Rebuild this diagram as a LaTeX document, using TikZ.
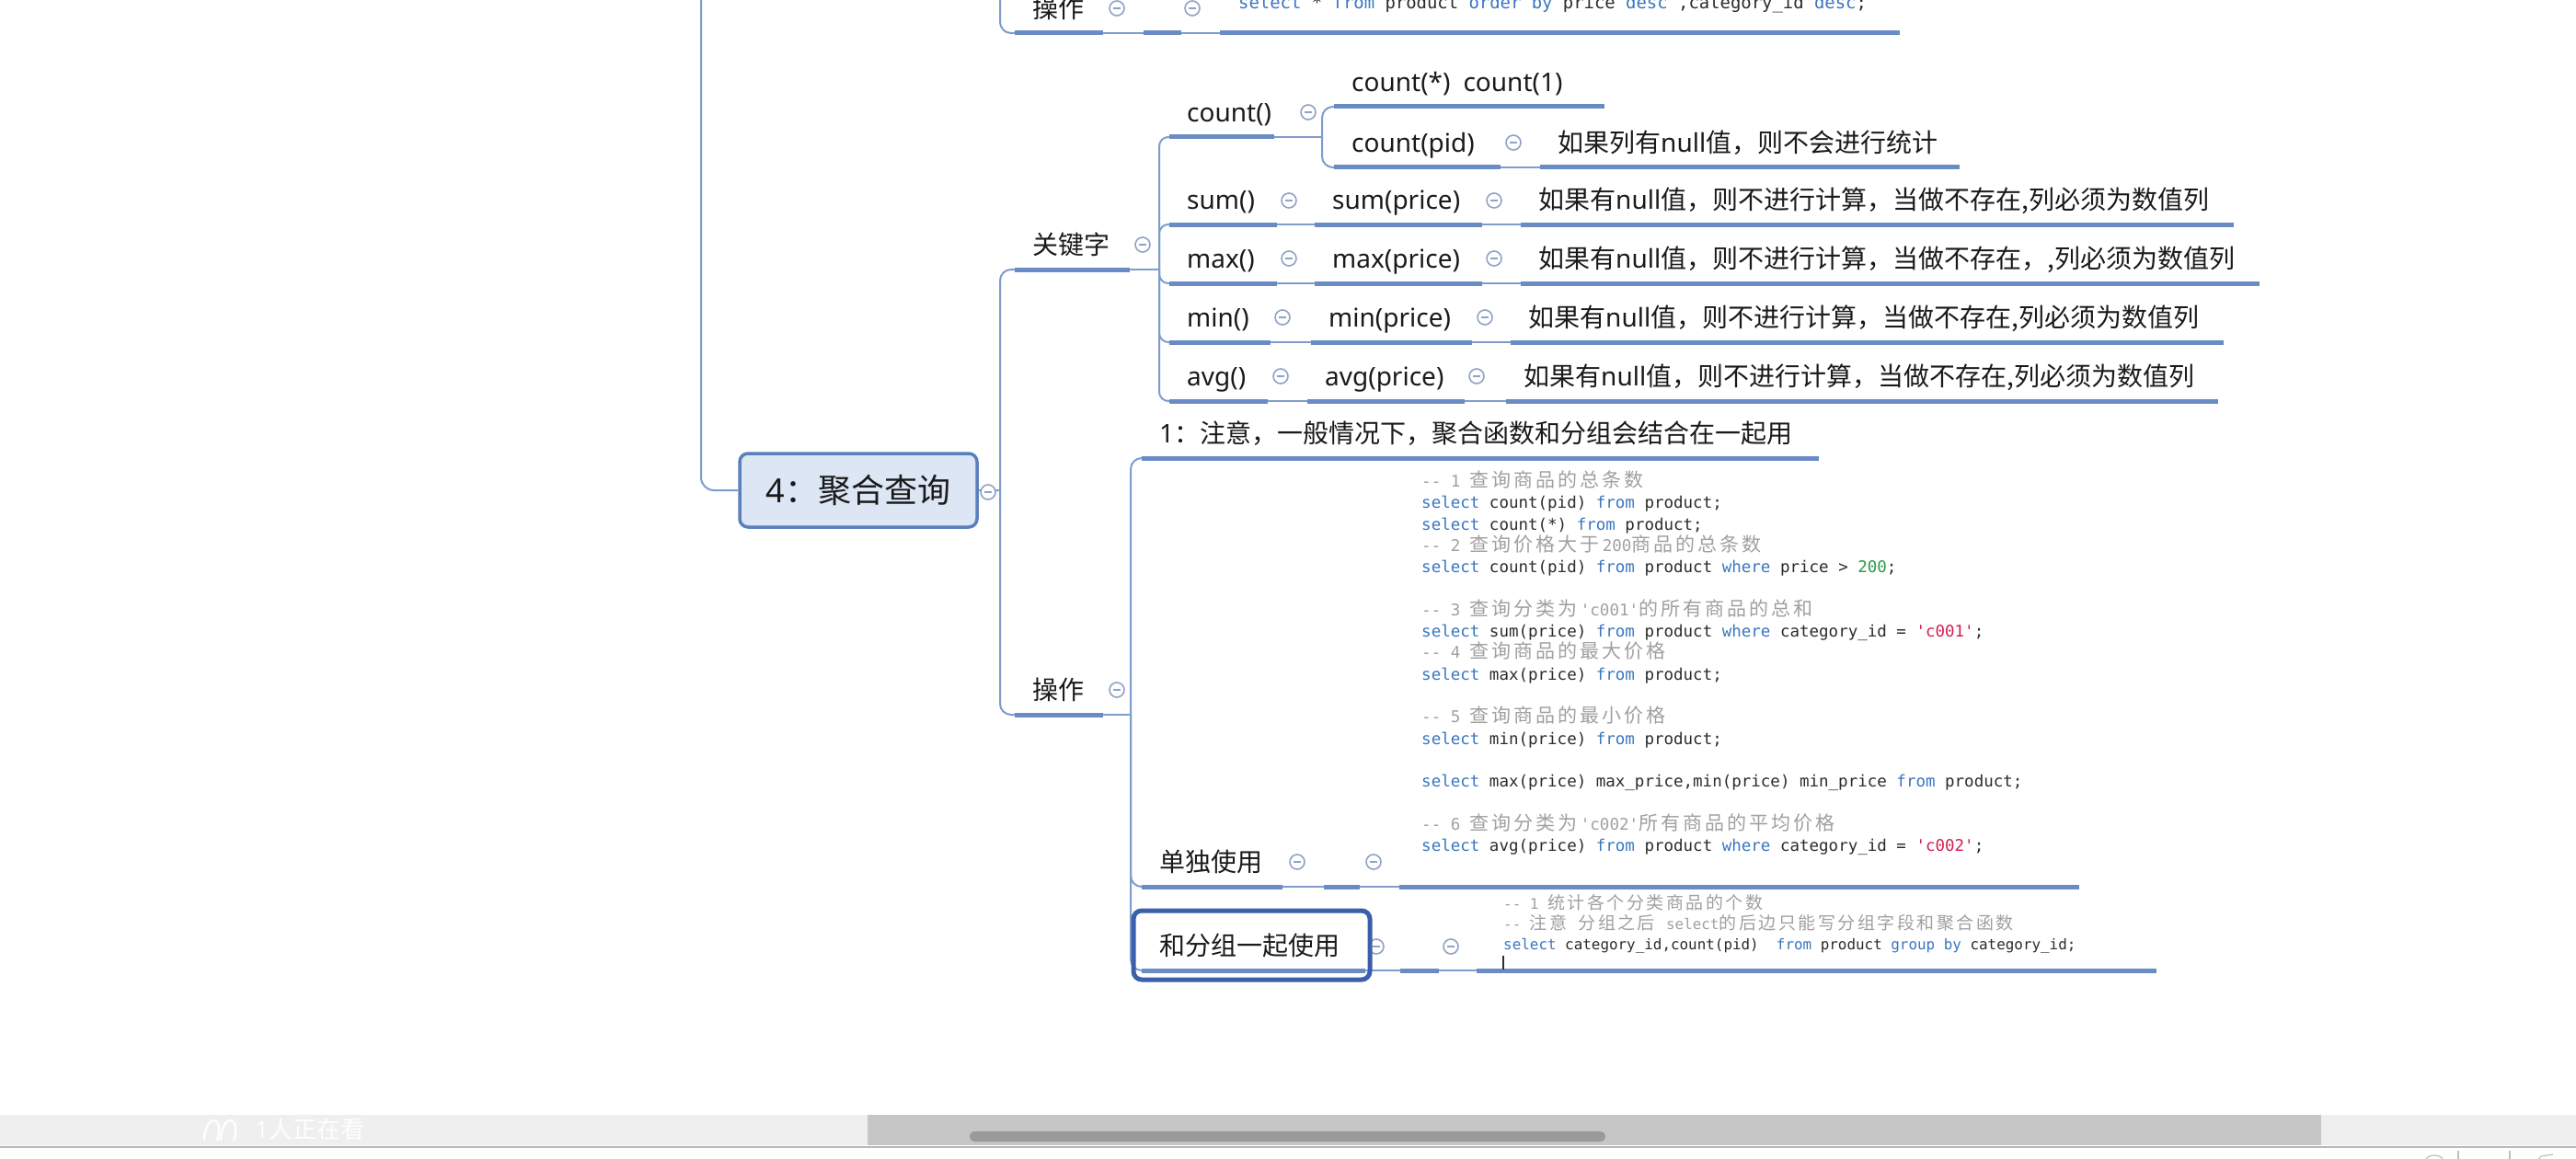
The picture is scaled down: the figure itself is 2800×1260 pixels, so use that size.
\documentclass[tikz,border=0pt]{standalone}
\usepackage{fontspec}
\setmainfont{Noto Sans CJK SC}
\setmonofont{DejaVu Sans Mono}
\newfontfamily\zhf{Noto Sans CJK SC}
\newfontfamily\latf{Noto Sans}
\newcommand\lt[1]{{\latf #1}}
\makeatletter
\newcommand\zhA[1]{{\zhf\fontsize{21}{22}\selectfont\@tfor\zh@c:=#1\do{\zh@c\kern3pt}}}
\newcommand\zhB[1]{{\zhf\fontsize{19}{20}\selectfont\@tfor\zh@c:=#1\do{\zh@c\kern2.5pt}}}
\makeatother
\definecolor{ulinec}{HTML}{6A8CC4}
\definecolor{connc}{HTML}{7E9CCC}
\definecolor{circc}{HTML}{8FA3C8}
\definecolor{rootfill}{HTML}{DCE6F4}
\definecolor{rootdraw}{HTML}{5A80BC}
\definecolor{selc}{HTML}{3B5FAA}
\definecolor{kwc}{HTML}{3A76C0}
\definecolor{codec}{HTML}{2C2C2C}
\definecolor{cmc}{HTML}{A0A0A0}
\definecolor{numc}{HTML}{2A9A45}
\definecolor{strc}{HTML}{D42050}
\definecolor{txt}{HTML}{1A1A1A}
\definecolor{bandc}{HTML}{EFEFEF}
\definecolor{trackc}{HTML}{C6C6C6}
\definecolor{thumbc}{HTML}{9A9A9A}
\newcommand\kwd[1]{\textcolor{kwc}{#1}}
\newcommand\cmt[1]{\textcolor{cmc}{#1}}
\newcommand\nmb[1]{\textcolor{numc}{#1}}
\newcommand\sqs[1]{\textcolor{strc}{#1}}
\usetikzlibrary{calc}
\tikzset{
  topic/.style={anchor=south west, inner xsep=19pt, inner ysep=9.5pt, align=left,
    text width=#1, text height=21pt, text depth=7pt,
    font=\fontsize{28}{32}\selectfont, text=txt},
  holder/.style={anchor=south west, inner sep=0pt, minimum width=#1, minimum height=30pt},
  uline/.style={draw=ulinec, line width=5pt},
  conn/.style={draw=connc, line width=2pt},
  spine/.style={conn, rounded corners=12pt},
  coll/.style={circle, draw=circc, line width=1.6pt, fill=white, minimum size=16pt, inner sep=0pt,
    path picture={\draw[circc, line width=1.4pt] ([xshift=-4pt]path picture bounding box.center) -- ([xshift=4pt]path picture bounding box.center);}},
  rootbox/.style={rectangle, rounded corners=9pt, draw=rootdraw, line width=3.5pt, fill=rootfill,
    minimum width=258pt, minimum height=80pt, font=\fontsize{36}{40}\selectfont, text=txt},
  selbox/.style={rectangle, rounded corners=9pt, draw=selc, line width=5pt, minimum width=257pt, minimum height=75pt},
  codeA/.style={anchor=west, inner sep=0pt, text height=13pt, text depth=4pt, font=\ttfamily\fontsize{17.5}{20}\selectfont, text=codec},
  codeB/.style={anchor=west, inner sep=0pt, text height=12pt, text depth=4pt, font=\ttfamily\fontsize{15.9}{18}\selectfont, text=codec},
  codeT/.style={anchor=west, inner sep=0pt, text height=14pt, text depth=4pt, font=\ttfamily\fontsize{18.9}{21}\selectfont, text=codec},
}
\begin{document}
\begin{tikzpicture}[x=1pt,y=-1pt]
\useasboundingbox (0,0) rectangle (2800,1260);
\fill[white] (0,0) rectangle (2800,1260);

% ---------- nodes ----------
\node[rootbox] (root) at (933,533) {\lt{4}：聚合查询};

\node[topic=58pt] (topOp) at (1103,36) {\mbox{操作}};
\node[topic=3pt] (topE) at (1243,36) {};
\node[holder=739pt] (topCode) at (1326,36) {};

\node[topic=87pt] (kw) at (1103,293) {\mbox{关键字}};
\node[topic=76pt] (cnt) at (1271,149) {\mbox{\lt{count()}}};
\node[topic=256pt] (cstar) at (1450,116) {\mbox{\lt{count(*)\hspace{14pt}count(1)}}};
\node[topic=143pt] (cpid) at (1450,182) {\mbox{\lt{count(pid)}}};
\node[topic=418pt] (note1) at (1674,182) {\mbox{如果列有\lt{null}值，则不会进行统计}};
\node[topic=79pt] (sum) at (1271,244) {\mbox{\lt{sum()}}};
\node[topic=144pt] (sump) at (1429,244) {\mbox{\lt{sum(price)}}};
\node[topic=737pt] (note2) at (1653,244) {\mbox{如果有\lt{null}值，则不进行计算，当做不存在,列必须为数值列}};
\node[topic=79pt] (max) at (1271,308) {\mbox{\lt{max()}}};
\node[topic=144pt] (maxp) at (1429,308) {\mbox{\lt{max(price)}}};
\node[topic=765pt] (note3) at (1653,308) {\mbox{如果有\lt{null}值，则不进行计算，当做不存在，,列必须为数值列}};
\node[topic=72pt] (min) at (1271,372) {\mbox{\lt{min()}}};
\node[topic=137pt] (minp) at (1425,372) {\mbox{\lt{min(price)}}};
\node[topic=737pt] (note4) at (1642,372) {\mbox{如果有\lt{null}值，则不进行计算，当做不存在,列必须为数值列}};
\node[topic=69pt] (avg) at (1271,436) {\mbox{\lt{avg()}}};
\node[topic=133pt] (avgp) at (1421,436) {\mbox{\lt{avg(price)}}};
\node[topic=736pt] (note5) at (1637,436) {\mbox{如果有\lt{null}值，则不进行计算，当做不存在,列必须为数值列}};

\node[topic=58pt] (op) at (1103,777) {\mbox{操作}};
\node[topic=698pt] (note0) at (1241,498) {\mbox{\lt{1}：注意，一般情况下，聚合函数和分组会结合在一起用}};
\node[topic=115pt] (solo) at (1241,964) {\mbox{单独使用}};
\node[topic=1pt] (soloE) at (1439,964) {};
\node[holder=739pt] (soloCode) at (1521,964) {};
\node[topic=205pt] (grp) at (1241,1055) {\mbox{和分组一起使用}};
\node[topic=4pt] (grpE) at (1522,1055) {};
\node[holder=739pt] (grpCode) at (1605,1055) {};

% ---------- spine coordinates ----------
\coordinate (leftTop) at (762,-20);
\coordinate (midTop) at (1087,-20);
\coordinate (rs) at (1087,533);
\coordinate (ks) at (1260,293);
\coordinate (cs) at (1437,149);
\coordinate (os) at (1229,777);

% ---------- connectors ----------
\draw[conn, rounded corners=14pt] (leftTop) |- (root.west);
\draw[spine] (midTop) |- (topOp.south west);
\draw[conn] (topOp.south east) -- (topE.south west);
\draw[conn] (topE.south east) -- (topCode.south west);

\draw[conn] (root.east) -- (rs);
\draw[spine] (rs) |- (kw.south west);
\draw[spine] (rs) |- (op.south west);

\draw[conn] (kw.south east) -- (ks);
\foreach \n in {cnt,sum,max,min,avg} \draw[conn, rounded corners=10pt] (ks) |- (\n.south west);
\draw[conn] (cnt.south east) -- (cs);
\draw[spine] (cs) |- (cstar.south west);
\draw[spine] (cs) |- (cpid.south west);
\draw[conn] (cpid.south east) -- (note1.south west);
\draw[conn] (sum.south east) -- (sump.south west);
\draw[conn] (sump.south east) -- (note2.south west);
\draw[conn] (max.south east) -- (maxp.south west);
\draw[conn] (maxp.south east) -- (note3.south west);
\draw[conn] (min.south east) -- (minp.south west);
\draw[conn] (minp.south east) -- (note4.south west);
\draw[conn] (avg.south east) -- (avgp.south west);
\draw[conn] (avgp.south east) -- (note5.south west);

\draw[conn] (op.south east) -- (os);
\foreach \n in {note0,solo,grp} \draw[spine] (os) |- (\n.south west);
\draw[conn] (solo.south east) -- (soloE.south west);
\draw[conn] (soloE.south east) -- (soloCode.south west);
\draw[conn] (grp.south east) -- (grpE.south west);
\draw[conn] (grpE.south east) -- (grpCode.south west);

% ---------- underlines ----------
\foreach \n in {topOp,topE,topCode,kw,cnt,cstar,cpid,note1,sum,sump,note2,max,maxp,note3,min,minp,note4,avg,avgp,note5,op,note0,solo,soloE,soloCode,grp,grpE,grpCode}
  \draw[uline] (\n.south west) -- (\n.south east);

% ---------- collapse circles ----------
\node[coll] (ctop1) at (1214,9) {};
\node[coll] (ctop2) at (1296,9) {};
\node[coll] (croot) at (1074,535) {};
\node[coll] (ckw) at (1242,266) {};
\node[coll] (ccnt) at (1422,122) {};
\node[coll] (ccpid) at (1645,155) {};
\node[coll] (csum) at (1401,218) {};
\node[coll] (csump) at (1624,218) {};
\node[coll] (cmax) at (1401,281) {};
\node[coll] (cmaxp) at (1624,281) {};
\node[coll] (cmin) at (1394,345) {};
\node[coll] (cminp) at (1614,345) {};
\node[coll] (cavg) at (1392,409) {};
\node[coll] (cavgp) at (1605,409) {};
\node[coll] (cop) at (1214,750) {};
\node[coll] (csolo) at (1410,937) {};
\node[coll] (csoloE) at (1493,937) {};
\node[coll] (cgrp) at (1496,1029) {};
\node[coll] (cgrpE) at (1577,1029) {};

% selection box
\node[selbox] (grpbox) at (1360.5,1027.5) {};

% ---------- code ----------
\node[codeT] (t1) at (1346,5) {\kwd{select} * \kwd{from} product \kwd{order} \kwd{by} price \kwd{desc} ,category\_id \kwd{desc};};

\node[codeA] (a1) at (1545,525) {\cmt{-- 1 \zhA{查询商品的总条数}}};
\node[codeA] (a2) at (1545,548.3) {\kwd{select} count(pid) \kwd{from} product;};
\node[codeA] (a3) at (1545,571.6) {\kwd{select} count(*) \kwd{from} product;};
\node[codeA] (a4) at (1545,594.9) {\cmt{-- 2 \zhA{查询价格大于}200\zhA{商品的总条数}}};
\node[codeA] (a5) at (1545,618.2) {\kwd{select} count(pid) \kwd{from} product \kwd{where} price > \nmb{200};};
\node[codeA] (a7) at (1545,664.8) {\cmt{-- 3 \zhA{查询分类为}'c001'\zhA{的所有商品的总和}}};
\node[codeA] (a8) at (1545,688.1) {\kwd{select} sum(price) \kwd{from} product \kwd{where} category\_id = \sqs{'c001'};};
\node[codeA] (a9) at (1545,711.4) {\cmt{-- 4 \zhA{查询商品的最大价格}}};
\node[codeA] (a10) at (1545,734.7) {\kwd{select} max(price) \kwd{from} product;};
\node[codeA] (a12) at (1545,781.3) {\cmt{-- 5 \zhA{查询商品的最小价格}}};
\node[codeA] (a13) at (1545,804.6) {\kwd{select} min(price) \kwd{from} product;};
\node[codeA] (a15) at (1545,851.2) {\kwd{select} max(price) max\_price,min(price) min\_price \kwd{from} product;};
\node[codeA] (a17) at (1545,897.8) {\cmt{-- 6 \zhA{查询分类为}'c002'\zhA{所有商品的平均价格}}};
\node[codeA] (a18) at (1545,921.1) {\kwd{select} avg(price) \kwd{from} product \kwd{where} category\_id = \sqs{'c002'};};

\node[codeB] (b1) at (1634,984) {\cmt{-- 1 \zhB{统计各个分类商品的个数}}};
\node[codeB] (b2) at (1634,1006) {\cmt{-- \zhB{注意} \zhB{分组之后} select\zhB{的后边只能写分组字段和聚合函数}}};
\node[codeB] (b3) at (1634,1028) {\kwd{select} category\_id,count(pid)\ \ \kwd{from} product \kwd{group} \kwd{by} category\_id;};
\draw[codec, line width=1.3pt] (1634,1039) -- (1634,1054);

% ---------- bottom bar ----------
\fill[bandc] (0,1212) rectangle (2800,1245);
\fill[trackc] (943,1212) rectangle (2523,1245);
\fill[thumbc, rounded corners=5pt] (1054,1230) rectangle (1745,1241);
\draw[gray!55, line width=2.5pt] (0,1247) -- (2800,1247);
\node[anchor=west, inner sep=0pt, text=white!97!bandc, font=\fontsize{26}{28}\selectfont] (watch) at (277,1228) {\lt{1}人正在看};
\draw[white!97!bandc, line width=2.5pt] (222,1240) .. controls (222,1226) and (228,1218) .. (232,1218) .. controls (238,1218) and (240,1228) .. (236,1240);
\draw[white!97!bandc, line width=2.5pt] (240,1240) .. controls (240,1226) and (246,1218) .. (250,1218) .. controls (256,1218) and (258,1228) .. (254,1240);
\draw[gray!50, line width=1.2pt] (2636,1262) .. controls (2638,1254) and (2654,1254) .. (2656,1262);
\draw[gray!50, line width=1.2pt] (2672,1251) -- (2672,1262);
\draw[gray!50, line width=1.2pt] (2728,1251) -- (2728,1262);
\draw[gray!50, line width=1.2pt] (2758,1262) -- (2762,1257) -- (2775,1255);
\end{tikzpicture}
\end{document}
